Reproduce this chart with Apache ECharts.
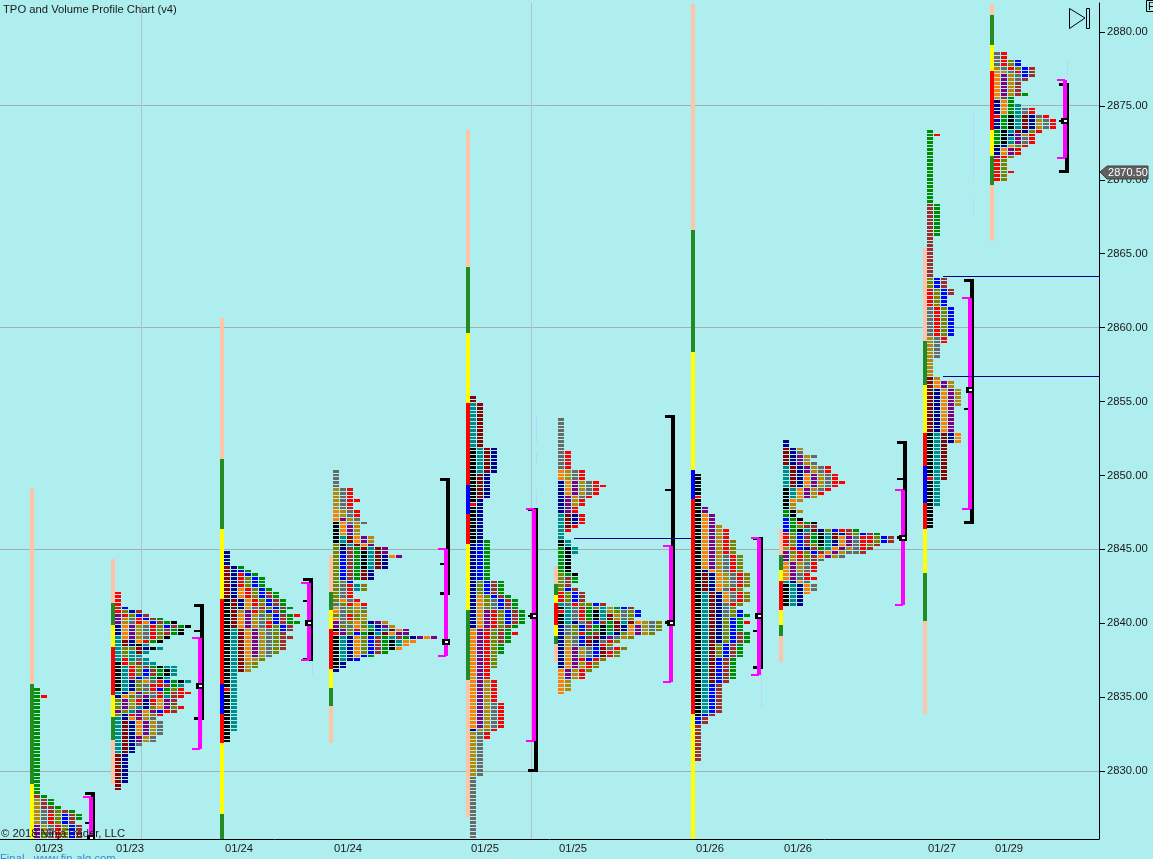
<!DOCTYPE html>
<html><head><meta charset="utf-8">
<style>html,body{margin:0;padding:0;background:#AFEEEE;overflow:hidden}#c{width:1153px;height:859px}</style>
<script src="https://cdn.jsdelivr.net/npm/echarts@6/dist/echarts.min.js"></script>
</head><body><div id="c"></div>
<script>
// ---- axes ----
const priceMin = 2825.4, priceMax = 2881.96;
const priceTicks = [2830,2835,2840,2845,2850,2855,2860,2865,2870,2875,2880];
const gridPrices = [2830,2845,2860,2875];
const dateLabels = ['01/23','01/23','01/24','01/24','01/25','01/25','01/26','01/26','01/27','01/29'];
const dateBars = [49,130,239,348,485,573,710,798,942,1009];
const verticalBars = [141,531];
const lastPrice = 2870.5;
// ---- sessions ----
const stripBars = [30,111,220,329,466,554,691,779,923,990];
const stripTops = [2849,2844.25,2860.5,2844.5,2873.25,2843.75,2881.75,2846.25,2865.25,2881.75];
const profileTops = [2835.5,2842,2844.75,2850.25,2855.25,2853.75,2850,2852.25,2873.25,2878.5];
// strip letters: p peach g green y yellow r red b blue, followed by row count
const stripA = 'p53 g27 y16', stripB = 'p12 g6 y6 r13 y6 g6 p12', stripC = 'p38 g19 y19 r23 b8 r8 y19 g7';
const stripD = 'p10 g5 y5 r11 y5 g5 p10', stripE = 'p37 g18 y19 r22 b8 r8 y18 g19 p37', stripF = 'p5 g3 y2 r6 y3 g2 p5';
const stripG = 'p61 g33 y32 b8 r58 y34', stripH = 'p7 g4 y3 r8 y4 g3 p7', stripI = 'p25 g12 y13 r9 b10 r7 y12 g13 p25';
const stripJ = 'p3 g8 y7 r16 y7 g8 p15';
// profile rows top to bottom, one letter per cell; *n repeats the row
const rowsA = ['G*2','GR','G*26','WG','AWG*2','AWWG','AYWLWG','AYRLBWG*2','AYRLBW','PAYRLBW*2','PLYRLBW*2'];
const rowsB = ['R*4','RB','RLNW','PRLBW','PAYRBWG','PAYROBWGk','NOPAYRLBWGk','NOPAYRLWGk*2','TOPAYRLk','TDNORGk','TDNkT','TLLDNkT','TLTDT','TLTT','TRTYT','kRLWTT','kTRLWGkTT','kTRLBWGkT*2','kTRBYGkT','kTNLOYRBGkT','kTNLYRRWGT','kTNLYRBGLR','TNOPLYRGWRR','NOLYPYRTWR','LPARNROPW*2','LPATNLOPLR','PLTPOPBRW','LNRPALR','TNOPAY','TDNOPAY*4','TDNPAY*2','TDNY','TDN*2','DN*8','D*2'];
const rowsC = ['N*4','DNG','DNBG','DNRBG','DNRLBG*3','DNORLBG','DNORLBWG*2','kDNORLBWG*2','kDNOYRLBWG','kDAPRLBWG','kDOPAYLBWGR','kDOPAYLBWG','kDOPAYRBWGG','kDOPAYRLBW','kTDOPAYLBW','kTDOPAYLW','kTDOPAYLWW','kTDOPAYLW*3','kTDOPAYL','kTDOPAY','kTDOAL','kTDAL*2','kTDA','kT*4','RT','kT*11','k*3'];
const rowsD = ['Y*5','AYR*3','AYRR','AYR*2','OAYR*2','OPAY','kOYAY','kOPA*3','kTDOPA*2','LkTDOP','LNWGDTDP','LNWGkTDP','LBWGkTDNOP','LBWGkTDN*3','LBWGDN*3','LLB','LYRTL*2','LYR*2','LOYR','YLROR','OYLAY','OYLAL','LYRLA','OYRLA','PYLOLNPA','PLYOLTNPA','kPLROGBTDOP','RPLBGkTDOPP','kTNOLBWGTWGNPOP','kTNOLBWGkTOO','kTNOLBWGkTO','kTNOLBWGkO','kTNOLBWG','kTNOBG','kTNB','kN*2','N'];
const rowsE = ['D*2','TD*12','kTDN*7','kDN*7','kN','RN','kN*9','kNG','NBG*10','NLBWG*4','NOLBWG','NOLYBWG*3','NOPRLBWG*4','NOPRLWG','OPRLWG','OPRLWGR','OPRLWG*2','OPRLG*3','OPRL*4','OPR*3','OPAR*6','OPAYR*7','NALR','AYR*2','AY*10','Y*17'];
const rowsF = ['Y*9','YR*5','OAYR*3','NOPAYR','NOPAYRR','NOPAYR*2','NPAYR','NPAR*2','NPR*2','TDNR*3','TDR','TR','T*2','kT*2','GkT*2','Gk*5','LGk','LWG*2','LW','LBW','RLBW*3','TYRLLBW','kTYRGLTAGBW','RTYRGkTALYLB','kTYRGkTDAYLB','kTYRGkTDAYL','kTNYWBWGDTDOAYL','NYLBWGkGDNOPAYL*2','NYLRGWkTNLOPAL','NAYBWDNPYAL','NAYBDNYRL','NAYBDNRL','NOPAYBDYRL','NOPAYBDRL*2','NOPRBRL','NOPARL*2','OPARL','OPAR*2','OA*3','O'];
const rowsG = ['k*6','R','k*2','kP*2','kOP*3','kOPA','kOPAR*3','kOPARL*4','kOPAYRL*4','kNOAYRL','kDNOAYRL*4','kDNOYRL','kTDNOYRL*3','kTDNYRL','kTDNYL','kTDNYLB','kTDNYLBG','kTDNLBG','kTDNLBGR','kTDNLBG*2','kTDNLBWG*3','kTDLBWG*4','kTDBWG*6','kTDBW','kTBW*8','kBW','BW*2','W*10'];
const rowsH = ['N*2','DNA','DNY','DNPAY','DNPA','DNPAY','TDNPAYR*2','TDNOPAYR*2','TDNOPAYRR','TDNOPAYR','kTOPAYR','kTOPAR','kTOPA','kOA','kA*2','GkA','Gk','BGk','BGRGk','BGLWW','BGkTDNLBRWG','RLBWGkTDNRLBWG','RLBWGkTDOPYRRLBW','RLBWGkTNOPYRRLBW','RLBWLkTNOPYRLW','ARBNWGTOPAYRW','PLRLBWOPAYYW','PARLWOPAY','PARLWY','OPAYR*3','OPYR','OPYRR','TNOY','kTNOY*2','kTNO','kTN*3'];
const rowsI = ['G','GR','G*18','WG*9','W*11','LBW*3','RLBW*2','RLB*3','YRLB*8','AYR*2','AY*4','A*5','DA','DOPA*2','DNOPA*5','DNOP*7','kTDNO*3','kTD*9','RTD','kT*7','k*6'];
const rowsJ = ['YR*2','YRLB*2','AYRLBW','OAYRBW','OPAYBW','OPAYW','OPAW*3','OPAWG','OWG','NOG','NOGT','NOGTYR*2','RGkTDNYR','NGkTDNAYR*3','GkTDNLR','GkNPAR','GkTPYR*2','kNOLR','NOPR*2','PRL','RL*3','RLR','RL*2'];
// ---- session ranges ----
const rangeBars = [91,200,309,446,534,671,759,903,970,1065];
const vaBars = [89,198,307,444,532,669,757,901,968,1063];
const rangeHigh = [2828.5,2841.25,2843,2849.75,2847.75,2854,2845.75,2852.25,2863.25,2876.5];
const rangeLow = [2825,2833.5,2837.5,2842,2830,2840,2837,2845.75,2846.75,2870.5];
const rangeMid = [2826.5,2839.5,2841.5,2844,2840.5,2849,2839.5,2849.75,2854.5,2874];
const vaHigh = [2828.25,2839,2842.75,2845,2847.75,2845.25,2845.75,2849,2862,2876.75];
const vaLow = [2825,2831.5,2837.5,2837.75,2832,2836,2836.5,2841.25,2847.75,2871.5];
const pocPrice = [2825.5,2835.75,2840,2838.75,2840.5,2840,2840.5,2845.75,2855.75,2874];
// naked POC lines: from bar, to bar, price
const nakedLines = [[574,691,2845.75],[943,1099,2863.5],[943,1099,2856.75]];
// faint dashed marks: bar, high, low
const faintMarks = [[536,2854,2852.25],[536,2851.5,2850.75],[536,2849,2848],[312,2843.25,2836.5],[202,2833.5,2832.25],[761,2837,2834.25],[973,2860,2857.5],[973,2874.5,2870],[973,2868.75,2867.5],[1067,2878,2877]];

const cellColors = {k:'#000000',T:'#008B8B',N:'#00008B',R:'#FF0000',D:'#8B0000',B:'#0000FF',G:'#008B00',O:'#FF8000',A:'#B8860B',Y:'#696969',L:'#808000',P:'#800080',W:'#A52A2A'};
const stripColors = {p:'#FFC4A8',g:'#228B22',y:'#FFFF00',r:'#FF0000',b:'#0000FF'};

const TICK = 0.25, COL = 7;
const allRows = [rowsA,rowsB,rowsC,rowsD,rowsE,rowsF,rowsG,rowsH,rowsI,rowsJ];
const allStrips = [stripA,stripB,stripC,stripD,stripE,stripF,stripG,stripH,stripI,stripJ];
const cellData = [], stripData = [], rangeData = [];
allRows.forEach((rows,s)=>{
  let price = profileTops[s];
  rows.forEach(r=>{
    const [pat,n] = r.split('*');
    for(let i=0;i<(+n||1);i++){
      [...pat].forEach((c,j)=>cellData.push([stripBars[s]+4+j*COL,price,c]));
      price -= TICK;
    }
  });
});
allStrips.forEach((str,s)=>{
  let price = stripTops[s];
  str.split(' ').forEach(seg=>{
    const n = +seg.slice(1);
    stripData.push([stripBars[s],price,price-(n-1)*TICK,seg[0]]);
    price -= n*TICK;
  });
});
rangeBars.forEach((b,i)=>rangeData.push([b,rangeHigh[i],rangeLow[i],rangeMid[i],vaHigh[i],vaLow[i],pocPrice[i],vaBars[i]]));

const lineData = [];
gridPrices.forEach(p=>lineData.push([0,p,1099,p,'#A6AEAE']));
verticalBars.forEach(b=>lineData.push([b,priceMax,b,priceMin,'#B8C2C2']));
const navyData = nakedLines.map(l=>[l[0],l[2],l[1],l[2],'#00008B']);
const faintData = faintMarks.map(m=>[m[0],m[1],m[0],m[2],'#C0CCFF']);

function renderLine(params,api){
  const a = api.coord([api.value(0),api.value(1)]), b = api.coord([api.value(2),api.value(3)]);
  const h = a[1]===b[1];
  return {type:'line',shape:{x1:h?a[0]:Math.floor(a[0])+.5,y1:h?Math.floor(a[1])+.5:a[1],x2:h?b[0]:Math.floor(b[0])+.5,y2:h?Math.floor(b[1])+.5:b[1]},
    style:{stroke:api.value(4),lineWidth:1}};
}
function renderNaked(params,api){
  const a = api.coord([api.value(0),api.value(1)]), b = api.coord([api.value(2),api.value(3)]);
  const y = Math.round(a[1])+.5;
  return {type:'line',shape:{x1:a[0],y1:y,x2:b[0],y2:y},style:{stroke:api.value(4),lineWidth:1}};
}
function renderFaint(params,api){
  const a = api.coord([api.value(0),api.value(1)]), b = api.coord([api.value(2),api.value(3)]);
  return {type:'line',shape:{x1:Math.floor(a[0])+.5,y1:a[1],x2:Math.floor(b[0])+.5,y2:b[1]},
    style:{stroke:api.value(4),lineWidth:1,lineDash:[3,1]}};
}
function renderCell(params,api){
  const c = api.coord([api.value(0),api.value(1)]);
  const top = Math.round(c[1]-1.85), bot = Math.round(c[1]+1.85)-1;
  return {type:'rect',shape:{x:Math.round(c[0]),y:top,width:6,height:bot-top},style:{fill:cellColors[api.value(2)]}};
}
function renderStrip(params,api){
  const a = api.coord([api.value(0),api.value(1)]), b = api.coord([api.value(0),api.value(2)]);
  const top = Math.round(a[1]-1.85), bot = Math.round(b[1]+1.85);
  return {type:'rect',shape:{x:Math.round(a[0]),y:top,width:4,height:bot-top},style:{fill:stripColors[api.value(3)]}};
}
function renderRange(params,api){
  const x = api.coord([api.value(0),priceMax])[0], vx = api.coord([api.value(7),priceMax])[0], w = 4;
  const y = i=>Math.round(api.coord([0,api.value(i)])[1]);
  const rect=(x0,y0,wd,ht,fill)=>({type:'rect',shape:{x:x0,y:y0,width:wd,height:ht},style:{fill}});
  const K='#000000',M='#FF00FF';
  const pocY = y(6);
  return {type:'group',children:[
    rect(x,y(1),w,y(2)-y(1),K),
    rect(vx-4,y(1)-1,x-vx+4+w,3,K),
    rect(vx-4,y(2)-2,x-vx+4+w,3,K),
    rect(vx-4,y(3)-1,8,2,K),
    rect(vx,y(4),4,y(5)-y(4),M),
    rect(vx-6,y(4)-1,8,2,M),
    rect(vx-6,y(5)-1,8,2,M),
    rect(vx-2,pocY-3,x+w-vx+2,6,K),
    rect(vx+1,pocY-1,3,2,'#FFFFFF')
  ]};
}
function renderTag(params,api){
  const c = api.coord([1099,api.value(0)]);
  const x=c[0]+1,y=Math.round(c[1]);
  return {type:'group',children:[
    {type:'polygon',shape:{points:[[x,y],[x+7,y-6],[x+48,y-6],[x+48,y+7],[x+7,y+7]]},style:{fill:'#606060',stroke:'#404040',lineWidth:1}},
    {type:'text',style:{text:'2870.50',x:x+28,y:y+1,align:'center',verticalAlign:'middle',fill:'#FFFFFF',font:'11px "Liberation Sans"'}}
  ]};
}
const chart = echarts.init(document.getElementById('c'),null,{renderer:'canvas'});
const textColor='#1a1a1a';
chart.setOption({
  animation:false,
  backgroundColor:'#AFEEEE',
  grid:{left:0,right:54,top:3,bottom:20},
  xAxis:{type:'value',min:0,max:1099,
    axisLine:{show:true,onZero:false,lineStyle:{color:'#000',width:1}},
    axisTick:{show:false},splitLine:{show:false},
    axisLabel:{customValues:dateBars,color:textColor,fontFamily:'Liberation Sans',fontSize:11.25,margin:4,
      formatter:v=>dateLabels[dateBars.indexOf(v)]||''}},
  yAxis:{type:'value',position:'right',min:priceMin,max:priceMax,
    axisLine:{show:true,onZero:false,lineStyle:{color:'#000',width:1}},
    axisTick:{show:true,length:6,customValues:priceTicks,lineStyle:{color:'#000'}},splitLine:{show:false},
    axisLabel:{customValues:priceTicks,color:textColor,fontFamily:'Liberation Sans',fontSize:11.25,margin:8,padding:[4,0,0,0],
      formatter:v=>v.toFixed(2)}},
  series:[
    {type:'custom',name:'grid',z:1,clip:true,silent:true,data:lineData,renderItem:renderLine,encode:{x:0,y:1}},
    {type:'custom',name:'faint',z:1,clip:true,silent:true,data:faintData,renderItem:renderFaint,encode:{x:0,y:1}},
    {type:'custom',name:'strips',z:2,clip:true,silent:true,data:stripData,renderItem:renderStrip,encode:{x:0,y:1},progressive:0},
    {type:'custom',name:'cells',z:3,clip:true,silent:true,data:cellData,renderItem:renderCell,encode:{x:0,y:1},progressive:0},
    {type:'custom',name:'ranges',z:4,clip:true,silent:true,data:rangeData,renderItem:renderRange,encode:{x:0,y:1}},
    {type:'custom',name:'naked',z:5,clip:true,silent:true,data:navyData,renderItem:renderNaked,encode:{x:0,y:1}},
    {type:'custom',name:'last',z:6,clip:false,silent:true,data:[[lastPrice]],renderItem:renderTag,encode:{y:0}}
  ],
  graphic:[
    {type:'text',z:100,left:3,top:4,style:{text:'TPO and Volume Profile Chart (v4)',fill:textColor,font:'11.25px "Liberation Sans"'}},
    {type:'text',z:100,left:1,top:828,style:{text:'\u00A9 2018 NinjaTrader, LLC',fill:textColor,font:'11.25px "Liberation Sans"'}},
    {type:'text',z:100,left:0,top:853,style:{text:'Final   www.fin-alg.com',fill:'#2E8FD0',font:'11.25px "Liberation Sans"'}},
    {type:'polygon',z:100,shape:{points:[[1069.5,8.5],[1085,18],[1069.5,28.5]]},style:{fill:'none',stroke:'#000',lineWidth:1}},
    {type:'rect',z:100,shape:{x:1086.5,y:8.5,width:3,height:20},style:{fill:'none',stroke:'#000',lineWidth:1}},
    {type:'rect',z:100,shape:{x:1146.5,y:0.5,width:10,height:11},style:{fill:'none',stroke:'#000',lineWidth:1}},
    {type:'text',z:101,left:1148,top:1,style:{text:'F',fill:'#000',font:'11px "Liberation Sans"'}}
  ]
});
</script></body></html>
